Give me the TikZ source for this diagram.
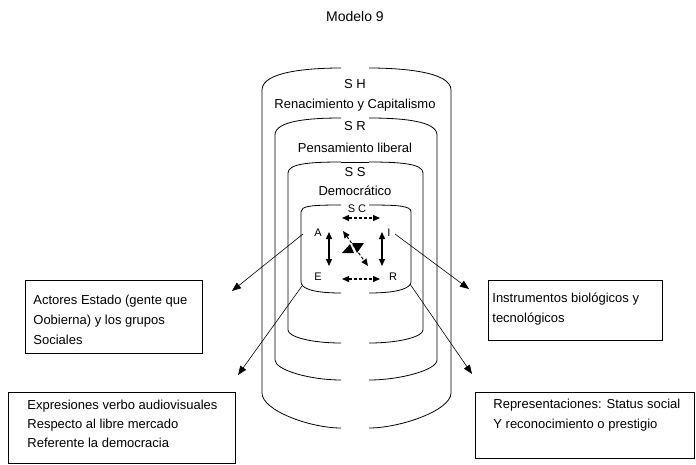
\documentclass[tikz,border=0pt]{standalone}
\usepackage{fontspec}
\setmainfont{Liberation Sans}
\usetikzlibrary{arrows.meta,positioning}
\tikzset{>/.tip={Triangle[length=9pt,width=7pt]}}
\tikzset{flechita/.style={line width=1.3pt,{Triangle[length=7pt,width=6pt]}-{Triangle[length=7pt,width=6pt]}}}
\tikzset{caja/.style={draw,anchor=north west,inner sep=0pt}}
\tikzset{texto/.style={anchor=north west,inner sep=0pt,align=left,font=\fontsize{13}{20}\selectfont}}
\newcommand{\capa}[6]{%
  \draw (341,#3) .. controls (310,#3) and (#1,{#3+0.15*(#4-#3)}) .. (#1,#4) -- (#1,#5)
    .. controls (#1,{(#5+#6)/2}) and (310,#6) .. (341,#6);
  \draw (369,#3) .. controls (400,#3) and (#2,{#3+0.15*(#4-#3)}) .. (#2,#4) -- (#2,#5)
    .. controls (#2,{(#5+#6)/2}) and (400,#6) .. (369,#6);}

\begin{document}
\begin{tikzpicture}[x=1pt,y=-1pt,line width=0.8pt,font=\fontsize{13}{15}\selectfont]
        \useasboundingbox (0,0) rectangle (696,464);
        \node(titulo) at (355,16){\fontsize{14}{16}\selectfont Modelo 9};
        \capa{262}{451}{68}{90}{393}{428}
        \capa{275}{437}{118}{135}{360}{380}
        \capa{288}{423}{162}{173}{330}{343}
        \draw (341,162) -- (369,162);
        \capa{301}{411}{205}{212}{282}{293}
        \node(sh) at (355,84){S H};
        \node(renac) at (355,105){Renacimiento y Capitalismo};
        \node(sr) at (355,126){S R};
        \node(liberal) at (355,148){Pensamiento liberal};
        \node(ss) at (355,172){S S};
        \node(democ) at (355,191){Democrático};
        \node(sc)[font=\fontsize{11}{13}\selectfont] at (357,209){S C};
        \node(A)[font=\fontsize{11}{13}\selectfont] at (318,233){A};
        \node(I)[font=\fontsize{11}{13}\selectfont] at (389,233){I};
        \node(E)[font=\fontsize{11}{13}\selectfont] at (318,277){E};
        \node(R)[font=\fontsize{11}{13}\selectfont] at (393,277){R};
        \coordinate(ae1) at (329,232); \coordinate(ae2) at (329,266);
        \coordinate(ir1) at (382,232); \coordinate(ir2) at (382,266);
        \coordinate(top1) at (342,218); \coordinate(top2) at (380,218);
        \coordinate(bot1) at (342,279); \coordinate(bot2) at (380,279);
        \coordinate(dia1) at (343,231); \coordinate(dia2) at (368,266);
        \draw[flechita] (ae1) -- (ae2);
        \draw[flechita] (ir1) -- (ir2);
        \draw[flechita,dash pattern=on 3pt off 2pt] (top1) -- (top2);
        \draw[flechita,dash pattern=on 3pt off 2pt] (bot1) -- (bot2);
        \draw[flechita,line width=1pt,dash pattern=on 3pt off 2pt] (dia1) -- (dia2);
        \fill (342,253) -- (354,253) -- (350,244) -- cycle;
        \fill (352,243) -- (364,243) -- (357,253) -- cycle;
        \node(act)[caja,minimum width=177pt,minimum height=73pt] at (25,280){};
        \node(actT)[texto] at ([shift={(8,15)}]act.north west){Actores Estado (gente que\\Oobierna) y los grupos\\Sociales};
        \node(expr)[caja,minimum width=227pt,minimum height=71pt] at (8,392){};
        \node(exprT)[texto,font=\fontsize{13}{19}\selectfont] at ([shift={(19,8)}]expr.north west){Expresiones verbo audiovisuales\\Respecto al libre mercado\\Referente la democracia};
        \node(instr)[caja,minimum width=174pt,minimum height=60pt] at (488,280){};
        \node(instrT)[texto] at ([shift={(4,13)}]instr.north west){Instrumentos biológicos y\\ tecnológicos};
        \node(repr)[caja,minimum width=219pt,minimum height=66pt] at (475,392){};
        \node(reprT)[texto] at ([shift={(18,7)}]repr.north west){Representaciones: Status social\\Y reconocimiento o prestigio};
        \coordinate(aout) at (303,234); \coordinate(aend) at (232,291);
        \coordinate(eout) at (302,286); \coordinate(eend) at (238,375);
        \coordinate(iout) at (395,234); \coordinate(iend) at (469,289);
        \coordinate(rout) at (410,284); \coordinate(rend) at (472,374);
        \draw[line width=0.6pt,->] (aout) -- (aend);
        \draw[line width=0.6pt,->] (eout) -- (eend);
        \draw[line width=0.6pt,->] (iout) -- (iend);
        \draw[line width=0.6pt,->] (rout) -- (rend);
      \end{tikzpicture}
\end{document}
